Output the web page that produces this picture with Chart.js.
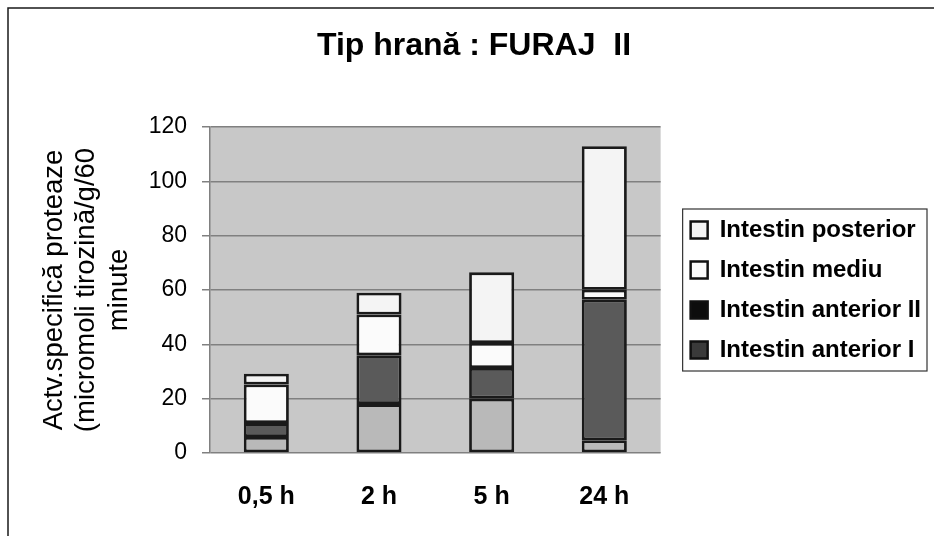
<!DOCTYPE html>
<html>
<head>
<meta charset="utf-8">
<script src="https://cdn.jsdelivr.net/npm/chart.js@4/dist/chart.umd.min.js"></script>
<style>
  html, body { margin: 0; padding: 0; background: #ffffff; }
  canvas { display: block; }
</style>
</head>
<body>
<canvas id="c" width="934" height="536"></canvas>
<script>
// ---- data ----
const categories = ['0,5 h', '2 h', '5 h', '24 h'];
const anteriorI = [5.9, 18, 20, 4.7];
const anteriorII = [5.1, 18, 11.3, 51.7];
const mediu = [14.2, 15, 9.2, 3.7];
const posterior = [4, 8, 26, 52.8];
const seriesNames = ['Intestin anterior I', 'Intestin anterior II', 'Intestin mediu', 'Intestin posterior'];
const yTicks = [0, 20, 40, 60, 80, 100, 120];
const chartTitle = 'Tip hrană : FURAJ  II';
const yTitle = ['Actv.specifică proteaze', '(micromoli tirozină/g/60', 'minute'];

const FONT = "'Liberation Sans', Arial, sans-serif";

const framePlugin = {
  id: 'frame',
  beforeDraw(chart) {
    const ctx = chart.ctx;
    ctx.save();
    ctx.fillStyle = '#ffffff';
    ctx.fillRect(0, 0, chart.width, chart.height);
    ctx.strokeStyle = '#1a1a1a';
    ctx.lineWidth = 1.5;
    ctx.beginPath();
    ctx.moveTo(8, chart.height);
    ctx.lineTo(8, 8);
    ctx.lineTo(chart.width, 8);
    ctx.stroke();
    const a = chart.chartArea;
    ctx.fillStyle = '#c8c8c8';
    ctx.fillRect(a.left, a.top, a.right - a.left, a.bottom - a.top);
    ctx.restore();
  },
  afterDraw(chart) {
    const lg = chart.legend;
    if (!lg || !lg.legendHitBoxes || !lg.legendHitBoxes.length) return;
    const hb = lg.legendHitBoxes;
    let l = Infinity, t = Infinity, r = -Infinity, b = -Infinity;
    hb.forEach(h => {
      l = Math.min(l, h.left); t = Math.min(t, h.top);
      r = Math.max(r, h.left + h.width); b = Math.max(b, h.top + h.height);
    });
    const ctx = chart.ctx;
    ctx.save();
    ctx.strokeStyle = '#333333';
    ctx.lineWidth = 1.2;
    ctx.strokeRect(l - 8, t - 9, (r - l) + 14, (b - t) + 18);
    ctx.restore();
  }
};

const legendFill = {
  'Intestin anterior II': '#0d0d0d',
  'Intestin anterior I': '#3a3a3a'
};

new Chart(document.getElementById('c'), {
  type: 'bar',
  data: {
    labels: categories,
    datasets: [
      { label: seriesNames[0], data: anteriorI, backgroundColor: '#b9b9b9' },
      { label: seriesNames[1], data: anteriorII, backgroundColor: '#5a5a5a' },
      { label: seriesNames[2], data: mediu, backgroundColor: '#fbfbfb' },
      { label: seriesNames[3], data: posterior, backgroundColor: '#f4f4f4' }
    ].map(d => Object.assign(d, {
      yAxisID: 'y',
      borderColor: '#1a1a1a',
      borderWidth: 2.8,
      borderSkipped: false,
      categoryPercentage: 1.0,
      barPercentage: 0.4
    }))
  },
  options: {
    responsive: false,
    animation: false,
    layout: { padding: { left: 17, right: 3, top: 0, bottom: 23 } },
    plugins: {
      title: {
        display: true,
        text: chartTitle,
        color: '#000000',
        font: { family: FONT, size: 32, weight: 'bold' },
        padding: { top: 27, bottom: 61.6 }
      },
      legend: {
        position: 'right',
        align: 'center',
        fullSize: false,
        reverse: true,
        maxWidth: 300,
        labels: {
          color: '#000000',
          font: { family: FONT, size: 24, weight: 'bold' },
          boxWidth: 17,
          boxHeight: 17,
          padding: 16,
          generateLabels(chart) {
            const items = Chart.defaults.plugins.legend.labels.generateLabels(chart);
            items.forEach(it => {
              if (legendFill[it.text]) it.fillStyle = legendFill[it.text];
              it.lineWidth = 2.5;
              it.strokeStyle = '#111111';
            });
            return items;
          }
        }
      },
      tooltip: { enabled: false }
    },
    scales: {
      x: {
        stacked: true,
        grid: { display: false, drawTicks: false },
        border: { display: false },
        ticks: {
          color: '#000000',
          font: { family: FONT, size: 25, weight: 'bold' },
          padding: 29
        },
        afterFit(scale) { scale.height = 60; }
      },
      y: {
        stacked: true,
        min: 0,
        max: 120,
        afterBuildTicks(scale) { scale.ticks = yTicks.map(v => ({ value: v })); },
        grid: { color: '#808080', lineWidth: 1.5, tickLength: 8, tickColor: '#808080' },
        border: { display: true, color: '#808080', width: 1.5 },
        ticks: {
          color: '#000000',
          font: { family: FONT, size: 23 },
          padding: 15
        },
        title: {
          display: true,
          text: yTitle,
          color: '#000000',
          font: { family: FONT, size: 27.5, lineHeight: 1.18 },
          padding: { top: 21, bottom: 10 }
        },
        afterFit(scale) { scale.width = 193; }
      },
      yR: {
        type: 'linear',
        position: 'right',
        display: true,
        grid: { display: false, drawTicks: false },
        border: { display: false },
        ticks: { display: false },
        afterFit(scale) { scale.width = 14; }
      }
    }
  },
  plugins: [framePlugin]
});
</script>
</body>
</html>
